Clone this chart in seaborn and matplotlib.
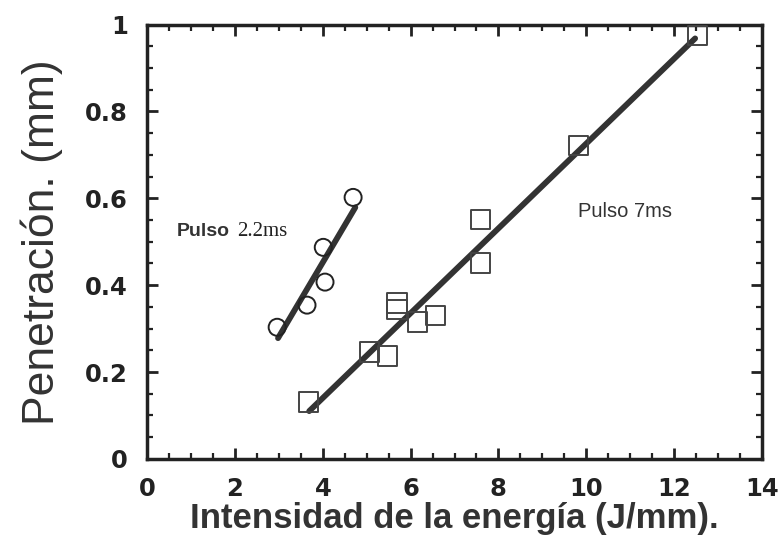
import matplotlib
matplotlib.use("Agg")
import matplotlib.pyplot as plt
import seaborn as sns
import pandas as pd
from matplotlib.ticker import MultipleLocator

# Data
circ_x = [2.96, 3.64, 4.05, 4.01, 4.69]
circ_y = [0.303, 0.354, 0.407, 0.487, 0.602]
sq_x = [3.67, 5.06, 5.47, 5.69, 5.69, 6.15, 6.56, 7.59, 7.59, 9.82, 12.53]
sq_y = [0.131, 0.246, 0.237, 0.359, 0.343, 0.315, 0.331, 0.451, 0.551, 0.721, 0.975]
fit22_x = [2.98, 4.74]
fit22_y = [0.278, 0.579]
fit7_x = [3.69, 12.48]
fit7_y = [0.110, 0.968]
xticks = [0, 2, 4, 6, 8, 10, 12, 14]
yticks = [0, 0.2, 0.4, 0.6, 0.8, 1.0]
ytick_labels = ["0", "0.2", "0.4", "0.6", "0.8", "1"]

sns.set_theme(style="ticks")
plt.rcParams["font.family"] = ["Liberation Sans", "DejaVu Sans"]

fig = plt.figure(figsize=(7.83, 5.45), dpi=100)
ax = fig.add_axes([0.188, 0.158, 0.785, 0.797])

df_c = pd.DataFrame({"x": circ_x, "y": circ_y})
df_s = pd.DataFrame({"x": sq_x, "y": sq_y})
df_f1 = pd.DataFrame({"x": fit22_x, "y": fit22_y})
df_f2 = pd.DataFrame({"x": fit7_x, "y": fit7_y})

sns.lineplot(data=df_f1, x="x", y="y", ax=ax, color="#333333", linewidth=4.2, zorder=3)
sns.lineplot(data=df_f2, x="x", y="y", ax=ax, color="#333333", linewidth=4.2, zorder=3)
sns.scatterplot(data=df_c, x="x", y="y", ax=ax, marker="o", s=150,
                facecolor="none", edgecolor="#222222", linewidth=1.4, zorder=4)
sns.scatterplot(data=df_s, x="x", y="y", ax=ax, marker="s", s=190,
                facecolor="none", edgecolor="#444444", linewidth=1.4, zorder=4)

ax.set_xlim(0, 14)
ax.set_ylim(0, 1)
ax.set_xticks(xticks)
ax.set_xticklabels([str(t) for t in xticks], fontsize=17.5, fontweight="bold",
                   family="DejaVu Sans", color="#222222")
ax.set_yticks(yticks)
ax.set_yticklabels(ytick_labels, fontsize=17.5, fontweight="bold",
                   family="DejaVu Sans", color="#222222")
ax.xaxis.set_minor_locator(MultipleLocator(0.5))
ax.yaxis.set_minor_locator(MultipleLocator(0.05))
ax.tick_params(which="both", direction="in", top=True, right=True, color="#222222")
ax.tick_params(which="major", length=8, width=2)
ax.tick_params(which="minor", length=4, width=1.6)
ax.tick_params(axis="x", pad=13)
ax.tick_params(axis="y", pad=14)
for sp in ax.spines.values():
    sp.set_linewidth(2.5)
    sp.set_color("#222222")

ax.set_xlabel("Intensidad de la energía (J/mm).", fontsize=25, fontweight="bold",
              color="#333333", labelpad=1)
ax.set_ylabel("Penetración. (mm)", fontsize=32, color="#333333", labelpad=16)

ax.text(0.68, 0.512, "Pulso", fontsize=14, fontweight="bold", color="#333333")
ax.text(2.05, 0.512, "2.2ms", fontsize=15, family="Liberation Serif", color="#222222")
ax.text(9.82, 0.558, "Pulso 7ms", fontsize=14.5, color="#333333")

fig.savefig("out.png", dpi=100)
